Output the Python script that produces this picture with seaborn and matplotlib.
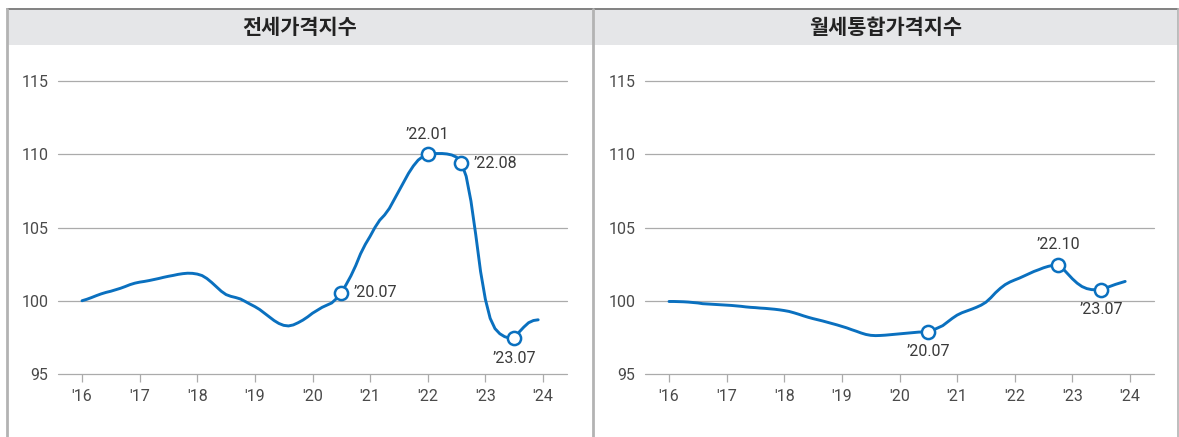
import numpy as np
import pandas as pd
import matplotlib
matplotlib.use("Agg")
import matplotlib.pyplot as plt
from matplotlib.patches import Rectangle
from matplotlib.lines import Line2D
import seaborn as sns

# ---- data: monthly index values, Jan 2016 .. Dec 2023 (2016.01 = 100) ----
jeonse_2016 = [100.00, 100.10, 100.22, 100.35, 100.47, 100.57, 100.65, 100.75, 100.85, 100.97, 101.10, 101.20]
jeonse_2017 = [101.27, 101.32, 101.38, 101.45, 101.52, 101.60, 101.67, 101.73, 101.80, 101.85, 101.88, 101.87]
jeonse_2018 = [101.82, 101.72, 101.52, 101.25, 100.95, 100.65, 100.42, 100.30, 100.22, 100.12, 99.95, 99.77]
jeonse_2019 = [99.60, 99.40, 99.15, 98.90, 98.65, 98.45, 98.32, 98.28, 98.35, 98.50, 98.68, 98.90]
jeonse_2020 = [99.15, 99.35, 99.55, 99.70, 99.85, 100.15, 100.55, 101.10, 101.70, 102.40, 103.20, 103.85]
jeonse_2021 = [104.40, 105.00, 105.50, 105.85, 106.30, 106.90, 107.50, 108.10, 108.70, 109.20, 109.60, 109.85]
jeonse_2022 = [110.00, 110.05, 110.05, 110.05, 110.02, 109.95, 109.80, 109.40, 108.50, 106.80, 104.50, 102.00]
jeonse_2023 = [100.10, 98.80, 98.10, 97.75, 97.55, 97.45, 97.45, 97.85, 98.20, 98.50, 98.65, 98.70]

wolse_2016 = [99.95, 99.95, 99.94, 99.93, 99.91, 99.88, 99.85, 99.80, 99.78, 99.76, 99.74, 99.72]
wolse_2017 = [99.70, 99.68, 99.65, 99.62, 99.58, 99.55, 99.53, 99.50, 99.48, 99.45, 99.42, 99.38]
wolse_2018 = [99.33, 99.27, 99.18, 99.08, 98.97, 98.87, 98.78, 98.70, 98.62, 98.53, 98.44, 98.35]
wolse_2019 = [98.25, 98.15, 98.03, 97.92, 97.80, 97.70, 97.64, 97.62, 97.63, 97.65, 97.68, 97.71]
wolse_2020 = [97.74, 97.77, 97.80, 97.83, 97.86, 97.87, 97.87, 98.00, 98.15, 98.30, 98.55, 98.80]
wolse_2021 = [99.02, 99.18, 99.30, 99.42, 99.55, 99.70, 99.90, 100.20, 100.55, 100.85, 101.10, 101.28]
wolse_2022 = [101.42, 101.55, 101.70, 101.85, 102.00, 102.12, 102.25, 102.35, 102.42, 102.45, 102.20, 101.85]
wolse_2023 = [101.50, 101.20, 100.97, 100.83, 100.76, 100.75, 100.75, 100.88, 101.00, 101.12, 101.22, 101.32]

titles = ["전세가격지수", "월세통합가격지수"]
tick_years = list(range(2016, 2025))
tick_labels = ["'16", "'17", "'18", "'19", "'20", "'21", "'22", "'23", "'24"]
y_ticks = [95, 100, 105, 110, 115]

# highlighted months and where their labels sit (right / above / below)
jeonse_marks = [("2020-07", "right"), ("2022-01", "above"), ("2022-08", "right"), ("2023-07", "below")]
wolse_marks = [("2020-07", "below"), ("2022-10", "above"), ("2023-07", "below")]


def build_frame(chunks):
    vals = sum(chunks, [])
    dates = pd.date_range("2016-01-01", periods=len(vals), freq="MS")
    return pd.DataFrame({"date": dates,
                         "x": dates.year + (dates.month - 1) / 12.0,
                         "value": vals})


jeonse_df = build_frame([jeonse_2016, jeonse_2017, jeonse_2018, jeonse_2019,
                         jeonse_2020, jeonse_2021, jeonse_2022, jeonse_2023])
wolse_df = build_frame([wolse_2016, wolse_2017, wolse_2018, wolse_2019,
                        wolse_2020, wolse_2021, wolse_2022, wolse_2023])

# ---- style ----
sns.set_theme(style="white")
plt.rcParams["font.family"] = ["Roboto", "Noto Sans CJK KR", "DejaVu Sans"]

BLUE = "#0A70BF"
GRID = "#ABABAB"
TXT = "#3A3A3A"
W, H = 1179, 437

fig = plt.figure(figsize=(W / 100, H / 100), dpi=100)
fig.patch.set_facecolor("white")


def fx(px):
    return px / W


def fy(py):
    return 1 - py / H


# header band and panel frame
fig.add_artist(Rectangle((fx(7), fy(45)), fx(1178) - fx(7), fy(8) - fy(45),
                         transform=fig.transFigure, facecolor="#E5E6E8",
                         edgecolor="none", zorder=0))
fig.add_artist(Line2D([fx(7), fx(1178)], [fy(8.5), fy(8.5)], transform=fig.transFigure,
                      color="#7A7A7A", lw=1.3))
for xb, lw in [(7, 2.0), (593, 2.0), (1177.5, 1.2)]:
    fig.add_artist(Line2D([fx(xb), fx(xb)], [fy(8.5), fy(437)], transform=fig.transFigure,
                          color="#B3B3B3", lw=lw))

OFFSETS = {"right": (12, 0, "left", "center"),
           "above": (0, 20, "center", "center"),
           "below": (0, -20, "center", "center")}

panels = [(58, jeonse_df, jeonse_marks, titles[0], 300),
          (645, wolse_df, wolse_marks, titles[1], 885.5)]

for left_px, df, marks, title, title_x in panels:
    ax = fig.add_axes([fx(left_px), fy(374), 509 / W, 293 / H])
    ax.set_facecolor("none")
    ax.set_xlim(2016 - 24 / 57.6, 2024 + 24 / 57.6)
    ax.set_ylim(95, 115)

    sns.lineplot(data=df, x="x", y="value", ax=ax, color=BLUE, lw=2.1,
                 solid_capstyle="round", zorder=3, legend=False)

    mdf = df[df["date"].dt.strftime("%Y-%m").isin([m for m, _ in marks])]
    ax.plot(mdf["x"], mdf["value"], ls="none", marker="o", ms=9.5,
            mfc="white", mec=BLUE, mew=1.8, zorder=4, clip_on=False)

    for m, where in marks:
        row = df[df["date"].dt.strftime("%Y-%m") == m].iloc[0]
        dx, dy, ha, va = OFFSETS[where]
        label = "’" + m[2:4] + "." + m[5:7]
        ax.annotate(label, (row["x"], row["value"]), xytext=(dx, dy),
                    textcoords="offset pixels", ha=ha, va=va,
                    fontsize=11.5, color=TXT, zorder=5)

    ax.set_yticks(y_ticks)
    ax.set_yticklabels([str(v) for v in y_ticks])
    ax.set_xticks(tick_years)
    ax.set_xticklabels(tick_labels)
    ax.grid(axis="y", color=GRID, lw=0.9)
    for gl in ax.get_ygridlines():
        gl.set_clip_on(False)
    for s in ["top", "right", "left", "bottom"]:
        ax.spines[s].set_visible(False)
    ax.tick_params(axis="y", length=0, pad=7, labelsize=11.5, labelcolor="#4A4A4A")
    ax.tick_params(axis="x", bottom=True, length=6, width=0.9, color=GRID, pad=5,
                   labelsize=11.5, labelcolor="#4A4A4A")
    ax.set_xlabel("")
    ax.set_ylabel("")

    fig.text(fx(title_x), fy(27), title, ha="center", va="center",
             fontsize=15, fontweight="bold", color="#222222",
             family=["Noto Sans CJK KR", "DejaVu Sans"])

fig.savefig("out.png", dpi=100, facecolor="white")
